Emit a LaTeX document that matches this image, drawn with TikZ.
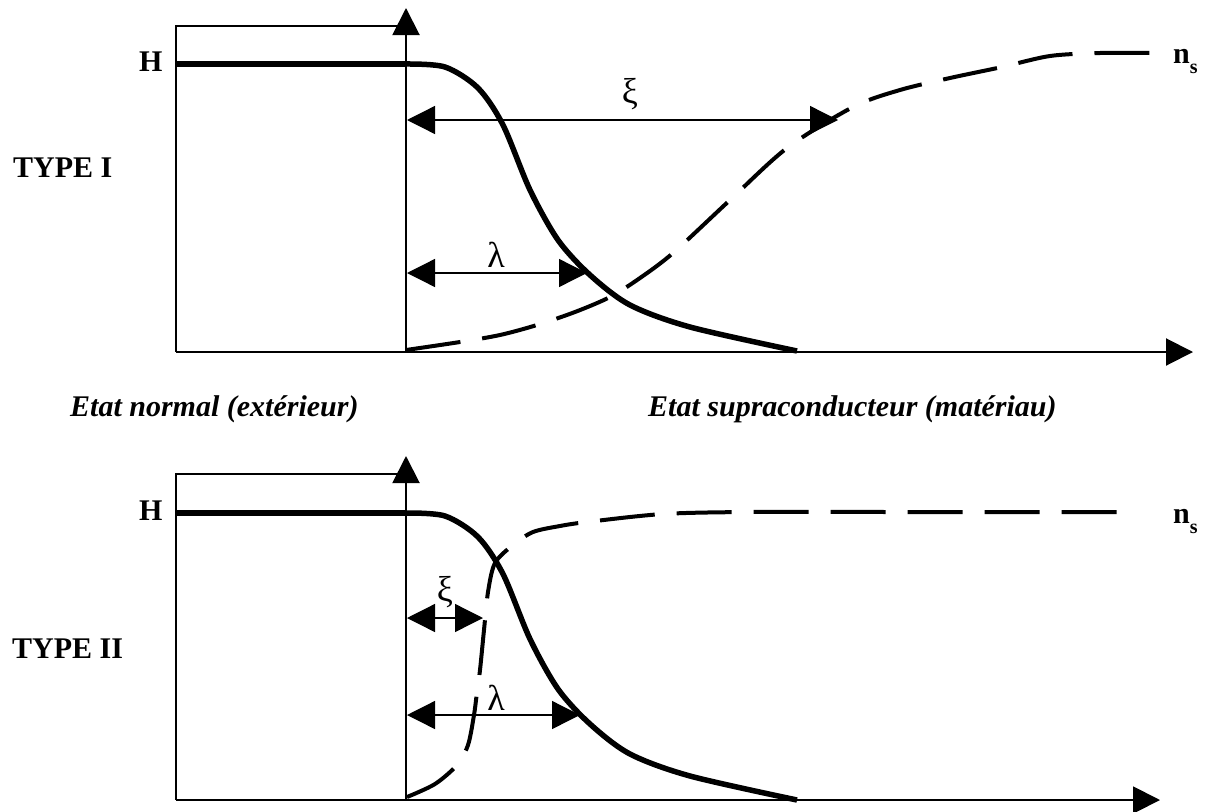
\documentclass[tikz,border=0pt]{standalone}
\usepackage{fontspec}
\setmainfont{Liberation Serif}
\usetikzlibrary{arrows.meta}
\begin{document}
\begin{tikzpicture}[x=1pt,y=-1pt,
  big/.style={font=\fontsize{30}{36}\selectfont\bfseries, inner sep=0pt},
  ital/.style={font=\fontsize{30}{36}\selectfont\bfseries\itshape, inner sep=0pt},
  greek/.style={font=\fontsize{36}{40}\selectfont, inner sep=0pt},
  frame/.style={line width=2pt},
  axis/.style={line width=2pt, -{Triangle[length=27pt,width=27pt]}},
  field/.style={line width=5.5pt},
  density/.style={line width=4pt, dash pattern=on 55pt off 22pt},
  dim/.style={line width=1.3pt, {Triangle[length=28pt,width=28pt]}-{Triangle[length=28pt,width=28pt]}},
]
\useasboundingbox (0,0) rectangle (1209,811);

% ---------------- TYPE I ----------------
\coordinate (tTL) at (176,26);
\coordinate (tTR) at (406,26);
\coordinate (tBL) at (176,352);
\coordinate (tO)  at (406,352);
\coordinate (tX)  at (1193,352);
\coordinate (tY)  at (406,8);
\coordinate (tHL) at (176,64);
\coordinate (tHR) at (406,64);
\draw[frame] (tTR) -- (tTL) -- (tBL);
\draw[axis] (tBL) -- (tX);
\draw[axis] (tO) -- (tY);
\draw[field] (tHL) -- (tHR);

\draw[field] plot[smooth] coordinates {(406,64) (445,67) (478,88) (503,125) (530,190) (558,240) (590,275) (630,305) (690,327) (797,351)};
\draw[density] plot[smooth] coordinates {(406,350) (460,342) (500,335) (537,325) (575,312) (610,297) (640,278) (673,253) (730,200) (787,148) (853,107) (900,90) (950,78) (1002,67) (1050,56) (1100,53) (1150,53)};

\coordinate (xiA) at (407,120);
\coordinate (xiB) at (838,120);
\draw[dim] (xiA) -- (xiB);
\coordinate (laA) at (407,273);
\coordinate (laB) at (587,273);
\draw[dim] (laA) -- (laB);

\node[big, anchor=base west] (typeI) at (13,177) {TYPE I};
\node[big, anchor=base west] (hTop) at (139,71) {H};
\node[greek, anchor=base] (xiTop) at (630,103) {ξ};
\node[greek, anchor=base] (laTop) at (496,267) {λ};
\begin{scope}
\clip (1150,20) rectangle (1209,73);
\node[big, anchor=base west] (nsTop) at (1173,63) {n\raisebox{-10pt}{\fontsize{20}{20}\selectfont s}};
\end{scope}

% ---------------- labels ----------------
\node[ital, anchor=base west] (etatN) at (70,416) {Etat normal (extérieur)};
\node[ital, anchor=base west] (etatS) at (648,416) {Etat supraconducteur (matériau)};

% ---------------- TYPE II ----------------
\coordinate (bTL) at (176,474);
\coordinate (bTR) at (406,474);
\coordinate (bBL) at (176,800);
\coordinate (bO)  at (406,800);
\coordinate (bX)  at (1160,800);
\coordinate (bY)  at (406,456);
\coordinate (bHL) at (176,513);
\coordinate (bHR) at (406,513);
\draw[frame] (bTR) -- (bTL) -- (bBL);
\draw[axis] (bBL) -- (bX);
\draw[axis] (bO) -- (bY);
\draw[field] (bHL) -- (bHR);

\begin{scope}[yshift=-449pt]
\draw[field] plot[smooth] coordinates {(406,64) (445,67) (478,88) (503,125) (530,190) (558,240) (590,275) (630,305) (690,327) (797,351)};
\end{scope}
\draw[density] plot[smooth] coordinates {(407,797) (435,784) (457,765) (468,745) (474,715) (477,692) (480,670) (484,630) (488,592) (495,563) (513,545) (533,532) (560,526) (587,522) (663,514) (750,512) (900,512) (1130,512)};

\coordinate (xi2A) at (407,618);
\coordinate (xi2B) at (483,618);
\draw[dim] (xi2A) -- (xi2B);
\coordinate (la2A) at (407,715);
\coordinate (la2B) at (580,715);
\draw[dim] (la2A) -- (la2B);

\node[big, anchor=base west] (typeII) at (12,658) {TYPE II};
\node[big, anchor=base west] (hBot) at (139,520) {H};
\node[greek, anchor=base] (xiBot) at (445,601) {ξ};
\node[greek, anchor=base] (laBot) at (496,710) {λ};
\begin{scope}
\clip (1150,480) rectangle (1209,533);
\node[big, anchor=base west] (nsBot) at (1173,523) {n\raisebox{-10pt}{\fontsize{20}{20}\selectfont s}};
\end{scope}
\end{tikzpicture}
\end{document}
